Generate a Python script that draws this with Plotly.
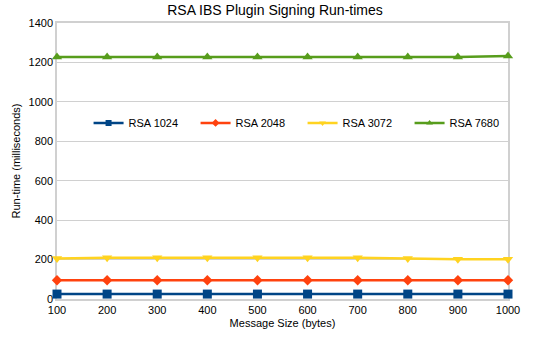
import plotly.graph_objects as go

sizes = [100, 200, 300, 400, 500, 600, 700, 800, 900, 1000]
rsa1024 = [25, 25, 25, 25, 25, 25, 25, 25, 25, 25]
rsa2048 = [95, 95, 95, 95, 95, 95, 95, 95, 95, 95]
rsa3072 = [205, 209, 209, 209, 209, 209, 209, 205, 201, 202]
rsa7680 = [1228, 1228, 1228, 1227, 1227, 1228, 1228, 1227, 1228, 1232]

series = [
    ("RSA 1024", rsa1024, "#004586", "square", 9),
    ("RSA 2048", rsa2048, "#ff420e", "diamond", 8),
    ("RSA 3072", rsa3072, "#ffd320", "triangle-down", 9),
    ("RSA 7680", rsa7680, "#579d1c", "triangle-up", 9),
]

fig = go.Figure()
for name, vals, color, sym, ms in series:
    fig.add_trace(go.Scatter(
        x=sizes, y=vals, name=name, mode="lines+markers", showlegend=False,
        line=dict(color=color, width=2.5),
        marker=dict(symbol=sym, size=ms, color=color),
        cliponaxis=False,
    ))
# legend entries with smaller symbols, like the original
for name, vals, color, sym, ms in series:
    fig.add_trace(go.Scatter(
        x=[None], y=[None], name=name, mode="lines+markers", showlegend=True,
        line=dict(color=color, width=2.5),
        marker=dict(symbol=sym, size=6, color=color),
    ))

fig.update_layout(
    width=550, height=338,
    margin=dict(l=57, r=42, t=23, b=39, autoexpand=False),
    paper_bgcolor="white", plot_bgcolor="white",
    font=dict(family="Liberation Sans, Arial, sans-serif", size=11, color="#000000"),
    title=dict(text="RSA IBS Plugin Signing Run-times", x=0.5, xanchor="center",
               y=0.985, yanchor="top", font=dict(size=14, color="#000000")),
    showlegend=True,
    legend=dict(orientation="h", x=0.07, y=0.638, xanchor="left", yanchor="middle",
                bgcolor="rgba(0,0,0,0)", font=dict(size=11),
                entrywidth=62, entrywidthmode="pixels"),
    xaxis=dict(range=[100, 1000], tickvals=sizes, showgrid=False, automargin=False,
               showline=True, linecolor="#d0d0d0", linewidth=1.5, mirror=True,
               ticks="", zeroline=False, layer="below traces",
               title=dict(text="Message Size (bytes)", font=dict(size=11), standoff=4)),
    yaxis=dict(range=[0, 1400], dtick=200, showgrid=True, gridcolor="#d0d0d0",
               gridwidth=1.2, showline=True, linecolor="#d0d0d0", linewidth=1.5,
               mirror=True, ticks="", zeroline=False, automargin=False, layer="below traces",
               title=dict(text="Run-time (milliseconds)", font=dict(size=11), standoff=6)),
)

fig.write_html("out.html", config={"displayModeBar": False},
               post_script="document.body.style.margin='0px';")
